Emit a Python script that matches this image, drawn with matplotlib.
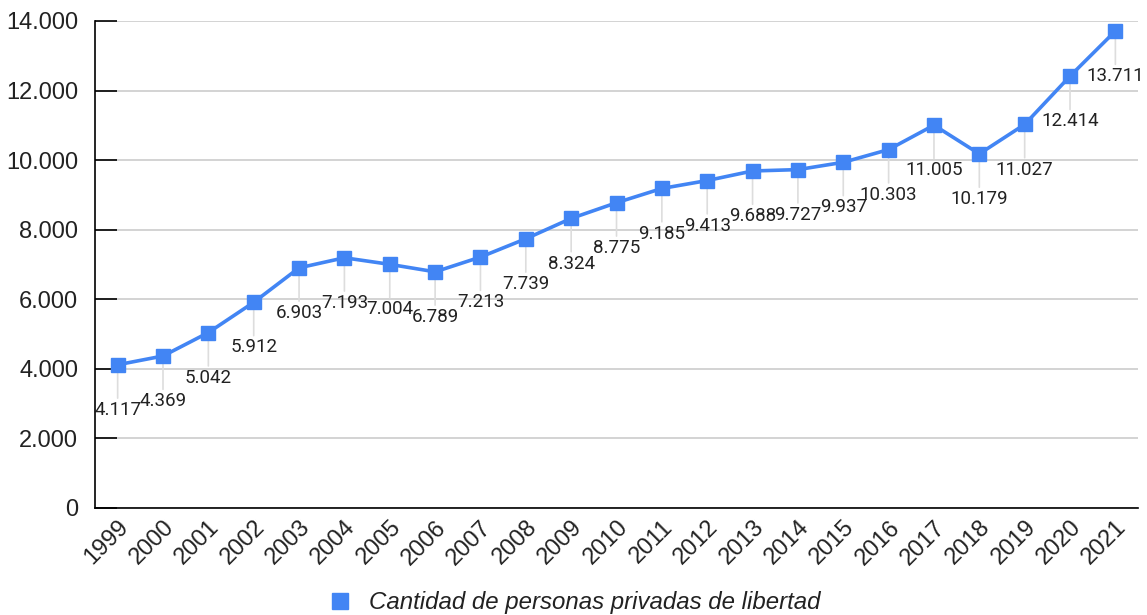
import numpy as np
import matplotlib.pyplot as plt

years = [str(y) for y in range(1999, 2022)]
personas = [4117, 4369, 5042, 5912, 6903, 7193, 7004, 6789, 7213, 7739, 8324, 8775,
            9185, 9413, 9688, 9727, 9937, 10303, 11005, 10179, 11027, 12414, 13711]
y_ticks = [0, 2000, 4000, 6000, 8000, 10000, 12000, 14000]
serie_name = 'Cantidad de personas privadas de libertad'

blue = '#4285F4'

def fmt(v):
    return f'{v:,}'.replace(',', '.')

fig = plt.figure(figsize=(11.47, 6.15), dpi=100)
ax = fig.add_axes([0.0828, 0.174, 0.9094, 0.7919])

x = np.arange(len(years))
ax.plot(x, personas, color=blue, lw=2.6, marker='s', ms=9.5, label=serie_name, zorder=3)

for xi, v in zip(x, personas):
    ax.annotate(fmt(v), xy=(xi, v), xytext=(0, -26), textcoords='offset points',
                ha='center', va='top', fontsize=13.5, family='Roboto', color='#222222',
                arrowprops=dict(arrowstyle='-', color='#dddddd', lw=1.2, shrinkA=0, shrinkB=3),
                annotation_clip=False, zorder=2)

ax.set_xlim(-0.5, len(years) - 0.5)
ax.set_ylim(0, 14000)
ax.set_yticks(y_ticks)
ax.set_yticklabels([fmt(t) for t in y_ticks], fontsize=17, family='Liberation Sans', color='#222222')
ax.set_xticks(x)
ax.set_xticklabels(years, rotation=45, ha='right', rotation_mode='anchor',
                   fontsize=17, family='Liberation Sans', color='#222222')
ax.tick_params(axis='y', direction='in', length=16, width=1.2, color='black', pad=12)
ax.tick_params(axis='x', length=0, pad=6)
ax.grid(axis='y', color='#cccccc', lw=1.2, zorder=0)
ax.set_axisbelow(True)
for s in ['top', 'right']:
    ax.spines[s].set_visible(False)
ax.spines['left'].set_linewidth(1.2)
ax.spines['bottom'].set_linewidth(1.2)

leg = fig.legend(handles=[plt.Line2D([], [], color=blue, marker='s', ls='', ms=12)],
                 labels=[serie_name], loc='center', bbox_to_anchor=(0.4996, 0.02),
                 frameon=False, handletextpad=0.6, handlelength=1.2,
                 prop={'family': 'Liberation Sans', 'style': 'italic', 'size': 17.3})
for t in leg.get_texts():
    t.set_color('#222222')

fig.savefig('out.png', dpi=100)
